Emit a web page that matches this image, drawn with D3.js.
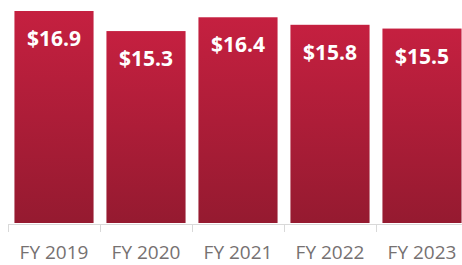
<!DOCTYPE html>
<html>
<head>
<meta charset="utf-8">
<script src="https://cdn.jsdelivr.net/npm/d3@7"></script>
<style>
  html, body { margin: 0; padding: 0; background: #fff; }
  svg { display: block; }
</style>
</head>
<body>
<div id="chart"></div>
<script>
const years = ["FY 2019", "FY 2020", "FY 2021", "FY 2022", "FY 2023"];
const revenue = [16.9, 15.3, 16.4, 15.8, 15.5];

const width = 462;
const height = 265;
const baseY = 224;

const svg = d3.select("#chart")
    .append("svg")
    .attr("width", width)
    .attr("height", height);

// vertical gradient for the bars
const grad = svg.append("defs")
    .append("linearGradient")
    .attr("id", "barFill")
    .attr("x1", 0).attr("y1", 0)
    .attr("x2", 0).attr("y2", 1);
grad.append("stop").attr("offset", "0%").attr("stop-color", "#c52040");
grad.append("stop").attr("offset", "100%").attr("stop-color", "#951a30");

// band scale: last band runs past the right edge like in the original
const x = d3.scaleBand()
    .domain(years)
    .range([8, 468])
    .paddingInner(0.14)
    .paddingOuter(0.07);

const y = d3.scaleLinear()
    .domain([0, 16.9])
    .range([baseY - 1, 11]);

svg.selectAll(".bar")
    .data(revenue)
    .join("rect")
    .attr("class", "bar")
    .attr("x", (d, i) => x(years[i]))
    .attr("y", d => y(d))
    .attr("width", x.bandwidth())
    .attr("height", d => y(0) - y(d))
    .attr("fill", "url(#barFill)");

// value labels
svg.selectAll(".val")
    .data(revenue)
    .join("text")
    .attr("class", "val")
    .attr("x", (d, i) => x(years[i]) + x.bandwidth() / 2)
    .attr("y", d => y(d) + 35)
    .attr("text-anchor", "middle")
    .attr("font-family", "'Open Sans', sans-serif")
    .attr("font-weight", "bold")
    .attr("font-size", "21px")
    .attr("fill", "#ffffff")
    .text(d => "$" + d.toFixed(1));

// category axis
const axis = d3.axisBottom(x).tickSize(0).tickPadding(0);
const axisG = svg.append("g")
    .attr("transform", `translate(0, ${baseY})`)
    .call(axis);
axisG.select(".domain").remove();
axisG.selectAll("text")
    .attr("y", 35)
    .attr("dy", 0)
    .attr("font-family", "'Open Sans', sans-serif")
    .attr("font-size", "19px")
    .attr("fill", "#767171");

// axis line + category boundary ticks
svg.append("line")
    .attr("x1", 8).attr("x2", width)
    .attr("y1", baseY + 0.5).attr("y2", baseY + 0.5)
    .attr("stroke", "#d9d9d9")
    .attr("stroke-width", 1);

const step = x.step();
const bounds = d3.range(years.length).map(i => x(years[i]) - x.paddingOuter() * step);
svg.selectAll(".tick-b")
    .data(bounds)
    .join("line")
    .attr("class", "tick-b")
    .attr("x1", d => Math.round(d) + 0.5)
    .attr("x2", d => Math.round(d) + 0.5)
    .attr("y1", baseY)
    .attr("y2", baseY + 8)
    .attr("stroke", "#d9d9d9")
    .attr("stroke-width", 1);
</script>
</body>
</html>
